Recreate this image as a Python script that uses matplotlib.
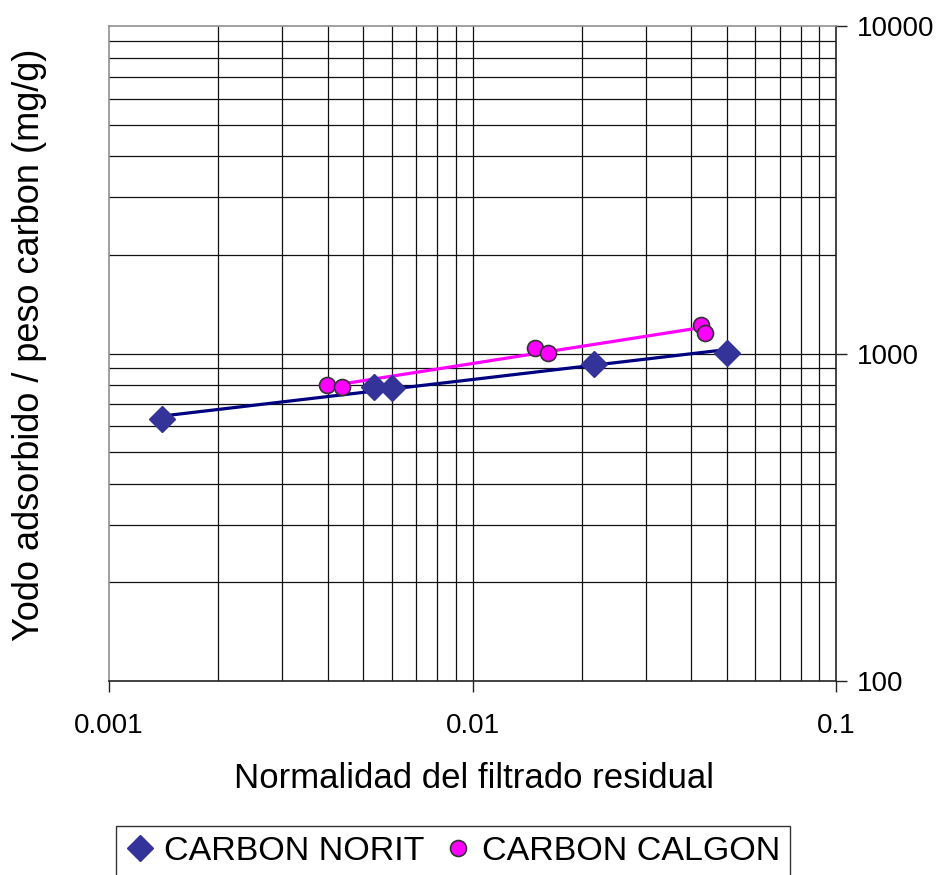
import numpy as np
import matplotlib
matplotlib.use("Agg")
import matplotlib.pyplot as plt
from matplotlib.ticker import LogLocator, NullFormatter, FixedLocator, FixedFormatter

plt.rcParams["font.family"] = ["Liberation Sans", "DejaVu Sans"]

# isotherm data (normality of residual filtrate vs iodine adsorbed per g carbon)
norit_x = [0.0014, 0.00535, 0.0060, 0.0216, 0.0501]
norit_y = [630, 788, 783, 932, 1007]
calgon_x = [0.00398, 0.00438, 0.01486, 0.01613, 0.0425, 0.0436]
calgon_y = [799, 788, 1042, 1007, 1225, 1158]

x_ticks = [0.001, 0.01, 0.1]
x_tick_labels = ["0.001", "0.01", "0.1"]
y_ticks = [100, 1000, 10000]
y_tick_labels = ["100", "1000", "10000"]


def power_fit(x, y):
    # least squares in log-log space, evaluated over the data range
    k, b = np.polyfit(np.log10(x), np.log10(y), 1)
    xs = np.logspace(np.log10(min(x)), np.log10(max(x)), 50)
    return xs, 10 ** (k * np.log10(xs) + b)


fig = plt.figure(figsize=(9.38, 8.75), dpi=100)
ax = fig.add_axes([109 / 938, 1 - 681 / 875, 727 / 938, 655 / 875])
ax.set_xscale("log")
ax.set_yscale("log")
ax.set_xlim(0.001, 0.1)
ax.set_ylim(100, 10000)

# gridlines at every decade subdivision
for v in [m * 10.0 ** e for e in (-3, -2) for m in range(2, 10)] + [0.01]:
    ax.axvline(v, color="#111111", lw=0.9, zorder=1)
for v in [m * 10.0 ** e for e in (2, 3) for m in range(2, 10)] + [1000]:
    ax.axhline(v, color="#111111", lw=0.9, zorder=1)

nx, ny = power_fit(norit_x, norit_y)
cx, cy = power_fit(calgon_x, calgon_y)
ax.plot(nx, ny, color="#000080", lw=2.3, zorder=3)
ax.plot(cx, cy, color="#ff00ff", lw=2.3, zorder=3)

ax.plot(norit_x, norit_y, ls="none", marker="D", ms=13, mfc="#333399",
        mec="#333399", zorder=4, label="CARBON NORIT")
ax.plot(calgon_x, calgon_y, ls="none", marker="o", ms=11.5, mfc="#ff00ff",
        mec="#333333", mew=1.2, zorder=4, label="CARBON CALGON")

# y axis sits on the right edge, x axis at the bottom
ax.yaxis.tick_right()
ax.xaxis.set_major_locator(FixedLocator(x_ticks))
ax.xaxis.set_major_formatter(FixedFormatter(x_tick_labels))
ax.yaxis.set_major_locator(FixedLocator(y_ticks))
ax.yaxis.set_major_formatter(FixedFormatter(y_tick_labels))
ax.xaxis.set_minor_locator(LogLocator(subs=[]))
ax.yaxis.set_minor_locator(LogLocator(subs=[]))
ax.xaxis.set_minor_formatter(NullFormatter())
ax.yaxis.set_minor_formatter(NullFormatter())
ax.tick_params(axis="x", direction="out", length=8, width=1, pad=15,
               labelsize=20, color="#222222")
ax.tick_params(axis="y", direction="out", length=8, width=1, pad=7,
               labelsize=20, color="#222222")

for side in ("left", "top"):
    ax.spines[side].set_color("#909090")
    ax.spines[side].set_linewidth(1.2)
for side in ("right", "bottom"):
    ax.spines[side].set_color("#222222")
    ax.spines[side].set_linewidth(1.2)

fig.text(474 / 938, 1 - 778 / 875, "Normalidad del filtrado residual",
         fontsize=25, ha="center", va="center")
fig.text(30 / 938, 1 - 345 / 875, "Yodo adsorbido / peso carbon (mg/g)",
         fontsize=26, ha="center", va="center", rotation=90)

leg = fig.legend(loc="upper left", bbox_to_anchor=(116 / 938, 1 - 826 / 875),
                 ncol=2, fontsize=24.5, frameon=True, fancybox=False,
                 edgecolor="#000000", handlelength=0.8, handletextpad=0.3,
                 columnspacing=0.6, borderpad=0.3, borderaxespad=0)
leg.get_frame().set_linewidth(1.0)

fig.savefig("out.png", dpi=100)
